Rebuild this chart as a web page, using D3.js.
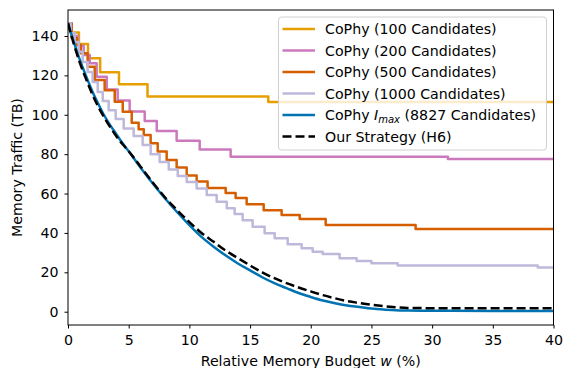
<!DOCTYPE html>
<html>
<head>
<meta charset="utf-8">
<script src="https://cdn.jsdelivr.net/npm/d3@7"></script>
<style>
  body { margin: 0; background: #fff; }
  text { font-family: "DejaVu Sans", sans-serif; fill: #000; }
</style>
</head>
<body>
<div id="chart"></div>
<script>
// Step series: budget where a level starts, traffic at that level.
const cophy100Budget = [0, 0.25, 0.9, 1.65, 2.65, 4.2, 6.55, 16.5, 40];
const cophy100Traffic = [146.5, 141.8, 135.9, 128.7, 121.6, 115.5, 109.3, 106.5, 106.5];

const cophy200Budget = [0, 0.3, 0.8, 1.29, 1.79, 2.36, 3.19, 4.09, 5.08, 6.32, 7.31, 8.95, 10.85, 13.4, 31.3, 40];
const cophy200Traffic = [146.5, 140, 135, 130.3, 126.2, 119.3, 112.8, 107.2, 101.6, 96.8, 91.7, 86.8, 82.4, 78.7, 77.5, 77.5];

const cophy500Budget = [0, 0.3, 0.72, 1.05, 1.62, 2.2, 3.02, 3.85, 4.51, 5.25, 5.82, 6.24, 6.81, 7.39, 8.13,
  8.95, 9.78, 10.6, 11.5, 12.99, 13.81, 14.72, 16.12, 17.6, 19.09, 21.23, 28.64, 40];
const cophy500Traffic = [146.5, 139, 135.4, 131.2, 124.4, 117.6, 112.5, 106.6, 101.5, 96, 92.7, 89.7, 85.6, 81.3, 77,
  73.2, 69.1, 66.1, 62.8, 60.3, 57.7, 54.6, 51.5, 49.1, 47.1, 44, 42, 42];

const cophy1000Budget = [0, 0.22, 0.55, 0.88, 1.21, 1.62, 2.03, 2.45, 2.86, 3.35, 3.93, 4.59, 5.41, 6.15, 6.81,
  7.55, 8.3, 9.04, 9.78, 10.6, 11.43, 12.25, 13.08, 13.73, 14.39, 15.21, 16.2, 17.03, 18.1, 19.25, 20.16,
  20.98, 22.38, 23.78, 25.0, 27.16, 38.7, 40];
const cophy1000Traffic = [146.5, 141.5, 137, 132, 126.8, 121.7, 116.6, 111.5, 107, 102.3, 97.8, 93, 89.2, 84.6, 80,
  76, 72.2, 68.9, 65.8, 62.6, 59.2, 55.8, 52.5, 49.6, 46.5, 43.1, 39.8, 37.3, 34.3, 32.2, 30.5,
  29.3, 27.1, 25.7, 24.6, 23.4, 22.5, 22.5];

// Smooth series.
const curveBudget = [0, 0.5, 1, 1.5, 2, 2.5, 3, 3.5, 4, 4.5, 5, 6, 7, 8, 9, 10, 11, 12, 13, 14, 15,
  16, 17, 18, 19, 20, 21, 22, 23, 24, 25, 26, 27, 28, 30, 35, 40];
const cophyMaxTraffic = [146.5, 136.5, 127.5, 119.5, 112, 105.5, 99.5, 94.5, 90, 85.5, 81.5, 73, 65, 57.5, 50.5, 44, 38, 33, 28.5, 24.5, 21,
  17.5, 14.5, 12, 9.5, 7.5, 5.7, 4.3, 3.2, 2.4, 1.6, 1.1, 0.8, 0.6, 0.5, 0.4, 0.4];
const strategyTraffic = [146.5, 135.5, 126, 118, 110.5, 104, 98.5, 93.5, 89, 85, 81.5, 73.5, 65.5, 58, 51.5, 45.5, 40, 35.5, 31, 27.2, 23.5,
  20, 17, 14.5, 12.3, 10.3, 8.4, 6.8, 5.4, 4.4, 3.5, 2.8, 2.3, 1.9, 1.8, 1.8, 1.8];

const xTicks = [0, 5, 10, 15, 20, 25, 30, 35, 40];
const yTicks = [0, 20, 40, 60, 80, 100, 120, 140];

const width = 566, height = 368;
const margin = { top: 10, right: 12.5, bottom: 43, left: 68 };
const fontSize = 14.2;

const svg = d3.select("#chart").append("svg")
  .attr("width", width)
  .attr("height", height);

const x = d3.scaleLinear().domain([0, 40]).range([margin.left, width - margin.right]);
const y = d3.scaleLinear().domain([-6.75, 153.2]).range([height - margin.bottom, margin.top]);

// Series in drawing order.
const series = [
  { xs: cophy100Budget, ys: cophy100Traffic, color: "#E69F00", step: true },
  { xs: cophy200Budget, ys: cophy200Traffic, color: "#CC78BC", step: true },
  { xs: cophy500Budget, ys: cophy500Traffic, color: "#D55E00", step: true },
  { xs: cophy1000Budget, ys: cophy1000Traffic, color: "#BEB9DB", step: true },
  { xs: curveBudget, ys: cophyMaxTraffic, color: "#0173B2", step: false },
  { xs: curveBudget, ys: strategyTraffic, color: "#000000", step: false, dash: "9,4" }
];

svg.append("clipPath").attr("id", "plot-clip")
  .append("rect")
  .attr("x", margin.left).attr("y", margin.top)
  .attr("width", width - margin.left - margin.right)
  .attr("height", height - margin.top - margin.bottom);

const lines = svg.append("g").attr("clip-path", "url(#plot-clip)");

series.forEach(s => {
  const pts = s.xs.map((v, i) => [v, s.ys[i]]);
  const line = d3.line()
    .x(d => x(d[0]))
    .y(d => y(d[1]))
    .curve(s.step ? d3.curveStepAfter : d3.curveMonotoneX);
  lines.append("path")
    .datum(pts)
    .attr("fill", "none")
    .attr("stroke", s.color)
    .attr("stroke-width", 2.5)
    .attr("stroke-dasharray", s.dash || null)
    .attr("stroke-linejoin", "round")
    .attr("d", line);
});

// Frame.
svg.append("rect")
  .attr("x", margin.left).attr("y", margin.top)
  .attr("width", width - margin.left - margin.right)
  .attr("height", height - margin.top - margin.bottom)
  .attr("fill", "none")
  .attr("stroke", "#000")
  .attr("stroke-width", 1);

// Axes.
const xAxis = svg.append("g")
  .attr("transform", `translate(0,${height - margin.bottom})`)
  .call(d3.axisBottom(x).tickValues(xTicks).tickSize(3.5).tickPadding(6).tickSizeOuter(0));
const yAxis = svg.append("g")
  .attr("transform", `translate(${margin.left},0)`)
  .call(d3.axisLeft(y).tickValues(yTicks).tickSize(3.5).tickPadding(6).tickSizeOuter(0));

[xAxis, yAxis].forEach(g => {
  g.select(".domain").remove();
  g.selectAll("line").attr("stroke", "#000");
  g.selectAll("text").attr("font-size", fontSize).attr("font-family", "DejaVu Sans").attr("fill", "#000");
});

// Axis titles.
const xTitle = svg.append("text")
  .attr("x", (margin.left + width - margin.right) / 2)
  .attr("y", 366)
  .attr("text-anchor", "middle")
  .attr("font-size", fontSize);
xTitle.append("tspan").text("Relative Memory Budget ");
xTitle.append("tspan").attr("font-style", "italic").text("w");
xTitle.append("tspan").text(" (%)");

svg.append("text")
  .attr("transform", `translate(22,${(margin.top + height - margin.bottom) / 2}) rotate(-90)`)
  .attr("text-anchor", "middle")
  .attr("font-size", fontSize)
  .text("Memory Traffic (TB)");

// Legend.
const legend = svg.append("g").attr("transform", "translate(278.5,17)");
legend.append("rect")
  .attr("width", 268).attr("height", 133)
  .attr("rx", 3)
  .attr("fill", "#fff").attr("fill-opacity", 0.8)
  .attr("stroke", "#d0d0d0").attr("stroke-width", 1);

const labels = [
  "CoPhy (100 Candidates)",
  "CoPhy (200 Candidates)",
  "CoPhy (500 Candidates)",
  "CoPhy (1000 Candidates)",
  null,
  "Our Strategy (H6)"
];

series.forEach((s, i) => {
  const cy = 12 + i * 21.5;
  legend.append("line")
    .attr("x1", 4).attr("x2", 36.5)
    .attr("y1", cy).attr("y2", cy)
    .attr("stroke", s.color)
    .attr("stroke-width", 2.5)
    .attr("stroke-dasharray", s.dash || null);
  const t = legend.append("text")
    .attr("x", 46.5).attr("y", cy + 5)
    .attr("font-size", fontSize);
  if (labels[i]) {
    t.text(labels[i]);
  } else {
    t.append("tspan").text("CoPhy ");
    t.append("tspan").attr("font-style", "italic").text("I");
    t.append("tspan").attr("font-style", "italic").attr("font-size", 10).attr("dy", 3).text("max");
    t.append("tspan").attr("dy", -3).text(" (8827 Candidates)");
  }
});
</script>
</body>
</html>
